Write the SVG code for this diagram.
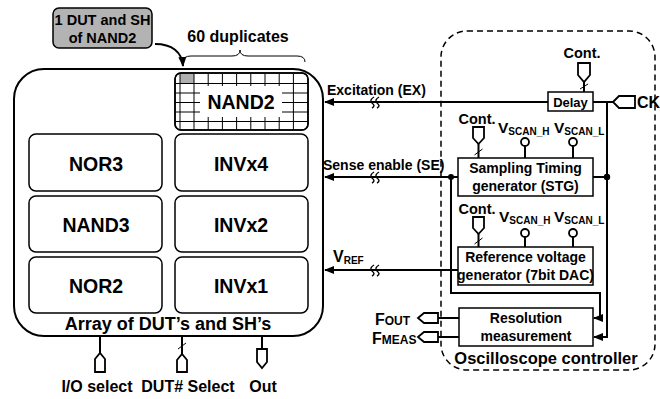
<svg xmlns="http://www.w3.org/2000/svg" width="660" height="399" viewBox="0 0 660 399">
<defs>
<style>
text{font-family:"Liberation Sans",Arial,sans-serif;font-weight:bold;fill:#000}
.blk{fill:#fff;stroke:#000;stroke-width:1.5}
.ln{fill:none;stroke:#000;stroke-width:2}
.thin{fill:none;stroke:#000;stroke-width:1}
.port{fill:#fff;stroke:#000;stroke-width:1.8}
.lbl{font-size:19.5px;text-anchor:middle}
.sub{font-size:10px}
</style>
<marker id="ah" viewBox="0 0 10 10" refX="9" refY="5" markerWidth="5" markerHeight="5" orient="auto">
<path d="M0,1 L10,5 L0,9 z" fill="#000"/>
</marker>
<g id="brk"><path d="M-5,6 q4,-2 0,-5 q-3,-3 2,-6 M0,6 q4,-2 0,-5 q-3,-3 2,-6" fill="none" stroke="#000" stroke-width="1.4"/></g>
</defs>
<rect width="660" height="399" fill="#fff"/>

<g id="array">
<rect x="14" y="69" width="309" height="267" rx="30" class="ln"/>
<text x="168" y="330" font-size="18" text-anchor="middle">Array of DUT’s and SH’s</text>
</g>

<g id="nand2">
<rect x="175" y="73" width="133" height="57" rx="6" class="blk"/>
<rect x="180" y="74" width="14" height="9.5" fill="#b0b0b0"/>
<g class="thin">
<path d="M194,74v56M208.2,74v56M222.4,74v56M236.6,74v56M250.8,74v56M265,74v56M279.2,74v56M293.4,74v56"/>
<path d="M180,74v56"/>
<path d="M175,83.5h133M175,93h133M175,102.5h133M175,112h133M175,121.5h133"/>
</g>
<rect x="200" y="86" width="82" height="31" fill="#fff"/>
<rect x="175" y="73" width="133" height="57" rx="6" fill="none" stroke="#000" stroke-width="1.5"/>
<text x="241" y="109" class="lbl">NAND2</text>
</g>

<g id="nor3"><rect x="29" y="134" width="133" height="57" rx="7" class="blk"/><text x="96" y="171" class="lbl">NOR3</text></g>
<g id="invx4"><rect x="175" y="134" width="133" height="57" rx="7" class="blk"/><text x="241" y="171" class="lbl">INVx4</text></g>
<g id="nand3"><rect x="29" y="196" width="133" height="56" rx="7" class="blk"/><text x="96" y="232" class="lbl">NAND3</text></g>
<g id="invx2"><rect x="175" y="196" width="133" height="56" rx="7" class="blk"/><text x="241" y="232" class="lbl">INVx2</text></g>
<g id="nor2"><rect x="29" y="257" width="133" height="56" rx="7" class="blk"/><text x="96" y="293" class="lbl">NOR2</text></g>
<g id="invx1"><rect x="175" y="257" width="133" height="56" rx="7" class="blk"/><text x="241" y="293" class="lbl">INVx1</text></g>

<g id="callout">
<rect x="53" y="8" width="99" height="40" rx="6" fill="#b3b3b3" stroke="#000" stroke-width="1.5"/>
<text x="102.5" y="25" font-size="14.5" text-anchor="middle">1 DUT and SH</text>
<text x="102.5" y="43" font-size="14.5" text-anchor="middle">of NAND2</text>
</g>

<g id="dup">
<text x="238" y="42" font-size="16" text-anchor="middle">60 duplicates</text>
<path d="M183,62 q0,-6 8,-6 h41 q8,0 8,-6 q0,6 8,6 h49 q8,0 8,6" class="thin" stroke-width="1.3"/>
</g>

<g id="osc">
<rect x="441" y="31" width="214" height="339" rx="26" fill="none" stroke="#000" stroke-width="1.5" stroke-dasharray="6,4"/>
<text x="546" y="364" font-size="16.5" text-anchor="middle">Oscilloscope controller</text>
</g>

<g id="delay">
<rect x="548" y="92" width="45" height="19" class="blk" stroke-width="2"/>
<text x="570.5" y="107" font-size="13" text-anchor="middle">Delay</text>
<text x="582" y="58" font-size="14.5" text-anchor="middle">Cont.</text>
<path d="M578,63 h12 v12 l-6,7 l-6,-7 z" class="port"/>
</g>

<g id="stg">
<rect x="458" y="158" width="135" height="38" class="blk" stroke-width="2"/>
<text x="525.5" y="173" font-size="14" text-anchor="middle">Sampling Timing</text>
<text x="525.5" y="191" font-size="14" text-anchor="middle">generator (STG)</text>
<text x="477" y="124" font-size="14.5" text-anchor="middle">Cont.</text>
<path d="M473,127 h11 v11 l-5.5,6 l-5.5,-6 z" class="port"/>
<text x="498" y="133" font-size="15.5">V<tspan class="sub" dy="2">SCAN_H</tspan></text>
<text x="554" y="133" font-size="15.5">V<tspan class="sub" dy="2">SCAN_L</tspan></text>
<circle cx="525" cy="142" r="4" class="port"/>
<circle cx="573" cy="142" r="4" class="port"/>
</g>

<g id="refgen">
<rect x="458" y="247" width="135" height="38" class="blk" stroke-width="2"/>
<text x="525.5" y="262" font-size="14" text-anchor="middle">Reference voltage</text>
<text x="525.5" y="280" font-size="14" text-anchor="middle">generator (7bit DAC)</text>
<text x="477" y="214" font-size="14.5" text-anchor="middle">Cont.</text>
<path d="M473,217 h11 v11 l-5.5,6 l-5.5,-6 z" class="port"/>
<text x="499" y="222" font-size="15.5">V<tspan class="sub" dy="2">SCAN_H</tspan></text>
<text x="554" y="222" font-size="15.5">V<tspan class="sub" dy="2">SCAN_L</tspan></text>
<circle cx="525" cy="233" r="4" class="port"/>
<circle cx="573" cy="233" r="4" class="port"/>
</g>

<g id="resmeas">
<rect x="459" y="308" width="134" height="38" class="blk" stroke-width="2"/>
<text x="526" y="323" font-size="14" text-anchor="middle">Resolution</text>
<text x="526" y="341" font-size="14" text-anchor="middle">measurement</text>
</g>

<g id="ck">
<path d="M613,102 l6,-6 h16 v12 h-16 z" class="port"/>
<text x="637" y="108" font-size="16">CK</text>
</g>

<g id="fout">
<path d="M418,318 l6,-5 h14 v10 h-14 z" class="port"/>
<text x="375" y="325" font-size="16">F<tspan font-size="12">OUT</tspan></text>
</g>
<g id="fmeas">
<path d="M418,337 l6,-5 h14 v10 h-14 z" class="port"/>
<text x="372" y="344" font-size="16">F<tspan font-size="12">MEAS</tspan></text>
</g>

<g id="io">
<path d="M95,372 v-13 l5,-6 l5,6 v13 z" class="port"/>
<text x="97" y="392" font-size="16" text-anchor="middle">I/O select</text>
</g>
<g id="dutsel">
<path d="M177,372 v-12 l5,-6 l5,6 v12 z" class="port"/>
<text x="188" y="392" font-size="16" text-anchor="middle">DUT# Select</text>
</g>
<g id="out">
<path d="M257,349 h10 v13 l-5,6 l-5,-6 z" class="port"/>
<text x="263" y="392" font-size="16" text-anchor="middle">Out</text>
</g>

<g id="connectors">
<path d="M548,102 H325" class="ln" marker-end="url(#ah)"/>
<use href="#brk" x="377" y="102"/>
<text x="327" y="95" font-size="14">Excitation (EX)</text>

<path d="M458,177 H325" class="ln" marker-end="url(#ah)"/>
<use href="#brk" x="377" y="177"/>
<text x="323" y="170" font-size="14">Sense enable (SE)</text>
<circle cx="451" cy="177" r="3"/>

<path d="M458,270 H325" class="ln" marker-end="url(#ah)"/>
<use href="#brk" x="377" y="270"/>
<text x="333" y="262" font-size="16">V<tspan class="sub" dy="2" font-size="12">REF</tspan></text>

<path d="M584,82 V92" class="ln"/>
<path d="M580,89 L588,84" class="thin" stroke-width="1.5"/>
<path d="M593,102 H613" class="ln"/>
<path d="M607,102 V337 H594" class="ln" marker-end="url(#ah)"/>
<path d="M593,177 H607" class="ln"/>
<circle cx="607" cy="177" r="3.2"/>
<path d="M451,177 V293 H600 V318 H594" class="ln" marker-end="url(#ah)"/>

<path d="M478.5,144 V158" class="ln"/>
<path d="M474.5,155 L482.5,149" class="thin" stroke-width="1.5"/>
<path d="M525,146 V158 M573,146 V158" class="ln"/>

<path d="M478.5,234 V247" class="ln"/>
<path d="M474.5,244 L482.5,238" class="thin" stroke-width="1.5"/>
<path d="M525,237 V247 M573,237 V247" class="ln"/>

<path d="M438,318 H459 M438,337 H459" class="ln"/>

<path d="M100,336 V353 M182,336 V354 M262,336 V349" class="ln"/>
<path d="M178,349 L186,343" class="thin" stroke-width="1.5"/>

<path d="M155,44 C172,44 182,52 183,66" class="ln" stroke-width="1.6" marker-end="url(#ah)"/>
</g>
</svg>
